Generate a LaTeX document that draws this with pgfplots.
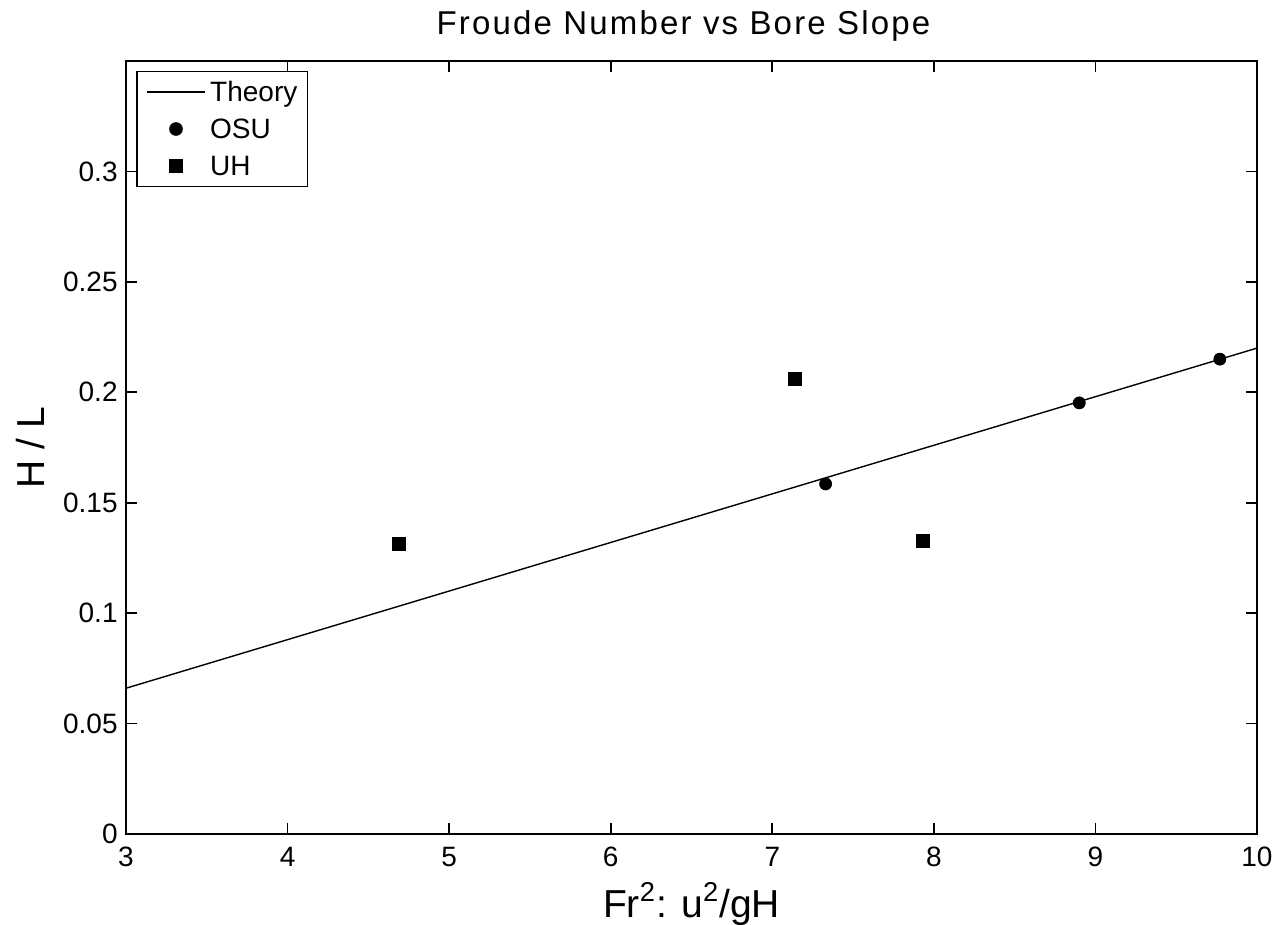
\documentclass[border=0pt]{standalone}
\usepackage{pgfplots}
\pgfplotsset{compat=1.18}
\usepackage{fontspec}
\setmainfont{Liberation Sans}
\newfontfamily\titlefont[LetterSpace=6.6]{Liberation Sans}

\begin{document}
\begin{tikzpicture}
\begin{axis}[
  scale only axis, width=565.5pt, height=386.5pt,
  xmin=3, xmax=10, ymin=0, ymax=0.35,
  xtick={3,4,5,6,7,8,9,10},
  ytick={0,0.05,0.1,0.15,0.2,0.25,0.3},
  yticklabels={0,0.05,0.1,0.15,0.2,0.25,0.3},
  scaled y ticks=false,
  /pgf/number format/assume math mode=true,
  tick align=inside, xtick pos=both, ytick pos=both, major tick length=5.5pt,
  axis line style={line width=0.8pt, black},
  every tick/.style={line width=0.8pt, black},
  tick label style={font=\fontsize{14}{16}\selectfont, inner sep=0pt},
  xticklabel shift=6.5pt, yticklabel shift=4pt,
  title={Froude Number vs Bore Slope},
  every axis title/.style={font=\titlefont\fontsize{16.5}{19}\selectfont,
    at={(axis description cs:0.5,1)}, anchor=base, xshift=-4pt, yshift=13.35pt},
  xlabel={Fr\textsuperscript{2}: u\textsuperscript{2}/gH},
  xlabel style={font=\fontsize{19.5}{22}\selectfont, at={(axis description cs:0.5,0)}, anchor=base, yshift=-41.5pt},
  ylabel={H / L},
  ylabel style={font=\fontsize{19.5}{22}\selectfont, at={(axis description cs:-0.0722,0.5)}, anchor=base},
  legend cell align=left,
  legend style={at={(axis description cs:0,1)}, anchor=north west, xshift=5pt, yshift=-4.85pt,
    draw=black, line width=0.8pt, inner xsep=5pt, inner ysep=1pt, column sep=2.5pt,
    font=\fontsize{14}{16}\selectfont,
    nodes={inner sep=0pt, text height=14.25pt, text depth=4.25pt}},
  legend image code/.code={\draw[mark repeat=2,mark phase=2,#1] plot coordinates {(0pt,0pt) (14.25pt,0pt) (28.5pt,0pt)};},
]
% theory: H/L = 0.022 Fr^2
\addplot[black, line width=0.7pt, no marks] coordinates {(3,0.066) (10,0.22)};
\addlegendentry{Theory}
% OSU measurements
\addplot[black, only marks, mark=*, mark size=3pt] coordinates {
  (7.33,0.1585) (8.90,0.1952) (9.77,0.2150)
};
\addlegendentry{OSU}
% UH measurements
\addplot[black, only marks, mark=square*, mark size=3.2pt] coordinates {
  (4.69,0.1314) (7.14,0.2060) (7.93,0.1327)
};
\addlegendentry{UH}
\end{axis}
\pgfresetboundingbox
\path[use as bounding box] (-63pt,-45.5pt) rectangle (576pt,417pt);
\end{tikzpicture}
\end{document}
